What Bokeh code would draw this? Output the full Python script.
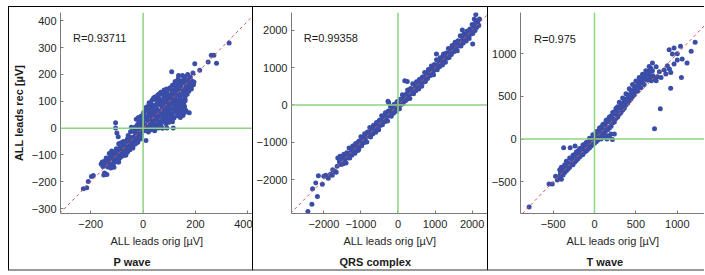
from bokeh.plotting import figure
from bokeh.models import Span, Slope, Label, Title, FixedTicker, Range1d
from bokeh.layouts import row
from bokeh.embed import file_html
from bokeh.resources import INLINE

FONT = "Liberation Sans"
DOT = "#3a4ea8"
GREEN = "#8fd483"
RED = "#d95555"
AXIS = "#7a7a7a"

# ---------------- data (µV) ----------------
P_TITLE = "P wave"
P_R = "R=0.93711"
P_XTICKS = [-200, 0, 200, 400]
P_YTICKS = [-300, -200, -100, 0, 100, 200, 300, 400]
P_PTS = [
    (-228, -226), (-215, -222), (-209, -199), (-197, -180), (-190, -176), (-160, -134), (-152, -140),
    (-148, -124), (-146, -126), (-140, -136), (-136, -118), (-130, -128), (-126, -108), (-122, -138),
    (-120, -85), (-118, -116), (-114, -98), (-110, -126), (-106, -108), (-102, -90),
    (-100, -120), (-96, -100), (-93, -126), (-92, -80), (-90, -112), (-86, -94), (-82, -72), (-80, -104),
    (-76, -86), (-72, -64), (-70, -98), (-66, -78), (-62, -56), (-60, -90), (-58, -84), (-56, -68),
    (-52, -46), (-50, -80), (-46, -60), (-42, -38), (-40, -70), (-36, -50), (-32, -30), (-30, -60),
    (-28, -50), (-26, -40), (-22, -22), (-20, -52), (-16, -32), (-15, -26), (-12, -14), (-10, -40),
    (-6, -22), (-2, -6),
    (-156, -126), (-150, -175), (-144, -134), (-138, -173), (-132, -112), (-126, -136), (-114, -134),
    (-108, -108), (-102, -77), (-96, -126), (-90, -75), (-84, -54), (-78, -103), (-72, -62),
    (-66, -101), (-60, -40), (-54, -64), (-48, -13), (-42, -62), (-36, -36), (-30, -5), (-24, -54),
    (-18, -3), (-12, 18), (-6, -31),
    (-153, -143), (-147, -167), (-141, -111), (-135, -145), (-129, -94), (-123, -148), (-117, -107),
    (-111, -146), (-105, -85), (-99, -109), (-93, -58), (-87, -107), (-81, -81), (-75, -50),
    (-69, -99), (-63, -48), (-57, -27), (-51, -76), (-45, -35), (-39, -74), (-33, -13), (-27, -37),
    (-21, 14), (-15, -35), (-9, -9),
    (-45, 3), (-38, 0), (-30, 4), (-22, 1), (-14, 3), (-6, 0), (2, 2), (10, 4), (18, 1), (26, 3),
    (34, 0), (42, 2), (50, 4), (58, 1), (66, 3), (74, 0), (91, 1), (115, 1),
    (-105, 20), (-105, 1), (-100, -18), (-95, -32), (-26, 33), (-7, 45), (-15, 22), (-20, 12),
    (5, -10), (20, -14), (11, -46), (32, -6), (44, -10),
    (-10, 15), (0, 25), (8, 12), (18, 28), (28, 16), (38, 24), (48, 12), (58, 22), (68, 14), (78, 26),
    (88, 16), (98, 22), (112, 24),
    (-18, 40), (-5, 36), (5, 48), (15, 34), (25, 44), (35, 32), (45, 46), (55, 38), (65, 48), (75, 34),
    (85, 44), (95, 36), (105, 48), (118, 38), (130, 46), (142, 40), (152, 47),
    (2, 58), (12, 66), (22, 54), (32, 62), (42, 68), (52, 56), (62, 64), (72, 52), (82, 68), (92, 58),
    (102, 66), (112, 54), (122, 62), (132, 68), (142, 56), (152, 64), (158, 58), (164, 64), (176, 57),
    (12, 78), (22, 86), (32, 74), (42, 84), (52, 72), (62, 88), (72, 76), (82, 86), (92, 74), (102, 84),
    (112, 72), (122, 88), (132, 78), (142, 86), (150, 74), (158, 82),
    (23, 95), (34, 104), (48, 107), (56, 96), (66, 106), (76, 94), (86, 104), (96, 92), (106, 108),
    (116, 96), (126, 104), (136, 94), (146, 106), (155, 96), (160, 102),
    (45, 116), (56, 124), (72, 126), (80, 114), (90, 122), (100, 112), (110, 126), (120, 116),
    (130, 124), (140, 112), (150, 128), (160, 118), (168, 126),
    (68, 134), (80, 142), (92, 136), (104, 148), (114, 132), (124, 144), (134, 136), (144, 148),
    (154, 134), (164, 144), (174, 138), (184, 146),
    (103, 151), (112, 160), (124, 154), (134, 166), (144, 156), (154, 168), (164, 154), (174, 164),
    (184, 156), (192, 162),
    (122, 174), (134, 184), (146, 176), (156, 188), (166, 174), (176, 182), (186, 176), (194, 172),
    (180, 190), (150, 196), (170, 200), (190, 206),
    (20, 5), (40, 8), (60, 6), (30, 20), (50, 30), (70, 28), (90, 30), (110, 32),
    (10, 40), (30, 50), (50, 48), (70, 46), (90, 52), (110, 42), (135, 52),
    (20, 70), (40, 60), (60, 56), (80, 60), (100, 58), (120, 76), (140, 70), (160, 70), (30, 90),
    (50, 88), (70, 92), (90, 88), (110, 92), (130, 92), (150, 90), (40, 112), (60, 112), (80, 104),
    (100, 100), (120, 108), (140, 102), (160, 108), (62, 128), (84, 130), (104, 124), (124, 132),
    (144, 124), (164, 132), (90, 146), (110, 142), (130, 150), (150, 146), (170, 152), (120, 164),
    (140, 170), (160, 176), (180, 170), (135, 196), (160, 192),
    (109, 210), (197, 240), (216, 216), (248, 247), (260, 272), (270, 272), (280, 242), (328, 317),
]

QRS_TITLE = "QRS complex"
QRS_R = "R=0.99358"
QRS_XTICKS = [-2000, -1000, 0, 1000, 2000]
QRS_YTICKS = [-2000, -1000, 0, 1000, 2000]
QRS_PTS = [
    (-2430, -2850), (-2322, -2653), (-2173, -2446), (-2304, -2240), (-2217, -2088), (-2147, -1890),
    (-1948, -1882), (-1772, -1882), (-1667, -1801), (-2040, -2120), (-2000, -1909), (-1880, -1960),
    (-1820, -1850), (-1760, -1730), (-1700, -1770), (-1623, -1417), (-1563, -1371), (-1492, -1371),
    (-1640, -1640), (-1580, -1520), (-1530, -1590), (-270, 100), (-250, 60), (251, 626), (183, 645),
    (1037, 1363), (1230, 1363), (1736, 2008), (2015, 1630), (2100, 2420), (2172, 2124), (2060, 2300),
    (-1500, -1440), (-1480, -1570), (-1460, -1320), (-1440, -1470), (-1420, -1410), (-1400, -1550),
    (-1380, -1280), (-1360, -1420), (-1340, -1310), (-1320, -1150), (-1300, -1420), (-1280, -1280),
    (-1260, -1180), (-1240, -1340), (-1220, -1100), (-1200, -1240), (-1180, -1130), (-1160, -1290),
    (-1140, -1030), (-1120, -1140), (-1100, -1060), (-1080, -1220), (-1060, -970), (-1040, -1110),
    (-1020, -1000), (-1000, -850), (-980, -1090), (-960, -950), (-940, -870), (-920, -1010),
    (-900, -770), (-880, -930), (-860, -800), (-840, -990), (-820, -720), (-800, -830), (-780, -750),
    (-760, -600), (-740, -860), (-720, -720), (-700, -620), (-680, -780), (-660, -540), (-640, -680),
    (-620, -570), (-600, -730), (-580, -470), (-560, -580), (-540, -500), (-520, -660), (-500, -410),
    (-480, -550), (-460, -440), (-440, -290), (-420, -530), (-400, -390), (-380, -310), (-360, -450),
    (-340, -210), (-320, -370), (-300, -240), (-280, -430), (-260, -160), (-240, -270), (-220, -190),
    (-200, -40), (-180, -300), (-160, -160), (-140, -60), (-120, -220), (-100, 20), (-80, -120),
    (-60, -10), (-40, -170), (-20, 90), (0, -20), (20, 60), (40, -100), (60, 150), (80, 10),
    (100, 120), (120, 270), (140, 30), (160, 170), (180, 250), (200, 110), (220, 280), (240, 150),
    (260, 400), (280, 250), (300, 310), (320, 170), (340, 440), (360, 300), (380, 410), (400, 570),
    (420, 300), (440, 440), (460, 540), (480, 380), (500, 620), (520, 480), (540, 590), (560, 430),
    (580, 690), (600, 580), (620, 660), (640, 500), (660, 750), (680, 610), (700, 720), (720, 870),
    (740, 630), (760, 770), (780, 850), (800, 710), (820, 950), (840, 790), (860, 920), (880, 790),
    (900, 1040), (920, 890), (940, 950), (960, 810), (980, 1080), (1000, 940), (1020, 1050),
    (1040, 1210), (1060, 940), (1080, 1080), (1100, 1180), (1120, 1020), (1140, 1260), (1160, 1120),
    (1180, 1230), (1200, 1070), (1220, 1330), (1240, 1220), (1260, 1300), (1280, 1140), (1300, 1390),
    (1320, 1250), (1340, 1360), (1360, 1510), (1380, 1270), (1400, 1410), (1420, 1490), (1440, 1350),
    (1460, 1590), (1480, 1430), (1500, 1560), (1520, 1430), (1540, 1680), (1560, 1530), (1580, 1590),
    (1600, 1450), (1620, 1720), (1640, 1580), (1660, 1690), (1680, 1850), (1700, 1580), (1720, 1720),
    (1740, 1820), (1760, 1660), (1780, 1900), (1800, 1760), (1820, 1870), (1840, 1710), (1860, 1970),
    (1880, 1860), (1900, 1940), (1920, 1780), (1940, 2030), (1960, 1890), (1980, 2000), (2000, 2150),
    (2020, 1910), (2040, 2050), (2060, 2130), (2080, 1990), (2100, 2230), (2120, 2070), (2140, 2200),
    (2160, 2250), (2180, 2130), (2200, 2300),
    (-1390, -1330), (-1190, -1250), (-1144, -1056), (-1058, -1191), (-930, -880), (-830, -780),
    (-710, -660), (-590, -640), (-470, -420), (-350, -330), (-230, -290), (-110, -150), (10, -40),
    (110, 150), (230, 290), (350, 300), (470, 520), (590, 540), (710, 660), (830, 800), (950, 900),
    (1070, 1020), (1190, 1140), (1310, 1280), (1430, 1380), (1550, 1500), (1670, 1620), (1790, 1740),
    (1910, 1860), (2030, 2010), (2110, 2200),
]

T_TITLE = "T wave"
T_R = "R=0.975"
T_XTICKS = [-500, 0, 500, 1000]
T_YTICKS = [-500, 0, 500, 1000]
T_PTS = [
    (-790, -795), (-549, -525), (-510, -525), (-470, -435), (-412, -415), (-450, -480),
    (-373, -100), (-294, -102), (-235, -82), (216, -4), (150, 0), (80, 0), (120, 20), (180, 30),
    (240, 60), (200, 60), (160, 40), (40, -10), (25, -20),
    (-420, -440), (-420, -360), (-400, -470), (-400, -330), (-380, -360), (-380, -420), (-360, -300),
    (-360, -390), (-340, -370), (-340, -260), (-320, -280), (-320, -350), (-300, -330), (-300, -220),
    (-280, -230), (-280, -300), (-260, -300), (-260, -190), (-240, -180), (-240, -270), (-220, -250),
    (-220, -150), (-200, -140), (-200, -230), (-180, -210), (-180, -110), (-160, -110), (-160, -190),
    (-140, -180), (-140, -70), (-120, -60), (-120, -150), (-100, -140), (-100, -40), (-80, -30),
    (-80, -120), (-60, -100), (-60, 10), (-40, 0), (-40, -80), (-20, -60), (-20, 50), (0, 40),
    (0, -50), (20, -30), (20, 90), (40, 90), (40, 0), (60, 20), (60, 130), (80, 140), (80, 40),
    (100, 60), (100, 170), (120, 180), (120, 70), (140, 100), (140, 220), (160, 230), (160, 110),
    (180, 130), (180, 260), (200, 270), (200, 150), (220, 190), (220, 310), (240, 320), (240, 200),
    (260, 240), (260, 360), (280, 380), (280, 260), (300, 290), (300, 430), (320, 420), (320, 310),
    (340, 340), (340, 480), (360, 470), (360, 360), (380, 400), (380, 530), (400, 520), (400, 420),
    (420, 450), (420, 590), (440, 570), (440, 470), (460, 500), (460, 640), (480, 620), (480, 520),
    (500, 560), (500, 680), (520, 670), (520, 560), (540, 610), (540, 720), (560, 710), (560, 600),
    (580, 660), (580, 760), (600, 750), (600, 640), (620, 700), (620, 800), (640, 790), (640, 690),
    (660, 760), (660, 850), (680, 830), (680, 720), (700, 800), (700, 890),
    (-410, -390), (-390, -380), (-370, -330), (-350, -360), (-330, -300), (-310, -290), (-290, -290),
    (-270, -230), (-250, -260), (-230, -200), (-210, -190), (-190, -190), (-170, -130), (-150, -160),
    (-130, -100), (-110, -90), (-90, -90), (-70, -30), (-50, -60), (-30, 0), (-10, 10), (10, 10),
    (30, 70), (50, 40), (70, 100), (90, 110), (110, 110), (130, 170), (150, 140), (170, 200),
    (190, 230), (210, 240), (230, 290), (250, 300), (270, 320), (290, 360), (310, 370), (330, 400),
    (350, 420), (370, 450), (390, 460), (410, 500), (430, 510), (450, 550), (470, 570), (490, 590),
    (510, 620), (530, 640), (550, 660), (570, 700), (590, 710), (610, 750), (630, 760), (650, 790),
    (670, 790),
    (667, 729), (686, 682), (706, 741), (627, 702), (720, 700), (725, 120), (745, 847), (745, 682),
    (760, 730), (784, 788), (795, 355), (804, 721), (843, 808), (862, 761), (880, 860), (905, 820),
    (920, 595), (921, 780), (941, 996), (961, 879), (1000, 926), (1000, 1000), (1039, 1086),
    (961, 1067), (902, 1047), (1059, 938), (1050, 720), (1118, 890), (1168, 1027), (1216, 1133),
]


def make_panel(pts, xr, yr, xticks, yticks, r_text, r_xy, title, width, border_left,
               title_offset, ylabel=None):
    p = figure(width=width, height=265, x_range=Range1d(*xr), y_range=Range1d(*yr),
               output_backend="svg", toolbar_location=None,
               min_border_left=border_left, min_border_right=0, min_border_top=5,
               min_border_bottom=57)
    p.styles = {"border-left": "1px solid #000", "border-top": "1px solid #000",
                "border-bottom": "2px solid #9a9a9a"}
    p.grid.visible = False
    p.outline_line_color = None
    p.background_fill_color = "white"
    p.border_fill_color = "white"

    xs = [a for a, _ in pts]
    ys = [b for _, b in pts]
    p.scatter(xs, ys, size=5, marker="circle", fill_color=DOT, line_color=None)

    p.add_layout(Span(location=0, dimension="width", line_color=GREEN, line_width=1.5))
    p.add_layout(Span(location=0, dimension="height", line_color=GREEN, line_width=1.5))
    p.add_layout(Slope(gradient=1, y_intercept=0, line_color=RED, line_dash="3 3", line_width=1))

    p.add_layout(Label(x=r_xy[0], y=r_xy[1], text=r_text, text_baseline="middle",
                       text_font=FONT, text_font_size="11px", text_color="#1a1a1a"))

    for ax, ticks in ((p.xaxis, xticks), (p.yaxis, yticks)):
        ax.ticker = FixedTicker(ticks=ticks)
        ax.major_tick_in = 3
        ax.major_tick_out = 0
        ax.minor_tick_in = 0
        ax.minor_tick_out = 0
        ax.axis_line_color = AXIS
        ax.major_tick_line_color = AXIS
        ax.major_label_text_font = FONT
        ax.major_label_text_font_size = "11px"
        ax.major_label_text_color = "#262626"
        ax.major_label_standoff = 4
    p.xaxis.major_label_standoff = 6
    p.xaxis.axis_label = "ALL leads orig [\u00b5V]"
    p.xaxis.axis_label_text_font = FONT
    p.xaxis.axis_label_text_font_size = "11px"
    p.xaxis.axis_label_text_font_style = "normal"
    p.xaxis.axis_label_text_color = "#262626"
    p.xaxis.axis_label_standoff = 4
    if ylabel:
        p.yaxis.axis_label = ylabel
        p.yaxis.axis_label_text_font = FONT
        p.yaxis.axis_label_text_font_size = "11px"
        p.yaxis.axis_label_text_font_style = "bold"
        p.yaxis.axis_label_text_color = "#1a1a1a"
        p.yaxis.axis_label_standoff = 4
    p.add_layout(Title(text=title, align="left", offset=title_offset, standoff=9,
                       text_font=FONT, text_font_size="11px", text_font_style="bold",
                       text_color="#1a1a1a"), "below")
    return p


f1 = make_panel(P_PTS, (-315, 421), (-318, 431), P_XTICKS, P_YTICKS, P_R, (-267, 337),
                P_TITLE, 244, 42, 53, ylabel="ALL leads rec [\u00b5V]")
f2 = make_panel(QRS_PTS, (-2872, 2442), (-2903, 2473), QRS_XTICKS, QRS_YTICKS, QRS_R,
                (-2540, 1782), QRS_TITLE, 235, 31, 48)
f3 = make_panel(T_PTS, (-894, 1341), (-871, 1482), T_XTICKS, T_YTICKS, T_R, (-730, 1173),
                T_TITLE, 217, 26, 66)

layout = row(f1, f2, f3, spacing=0, margin=(6, 0, 0, 8))
open("out.html", "w").write(file_html(layout, INLINE))
